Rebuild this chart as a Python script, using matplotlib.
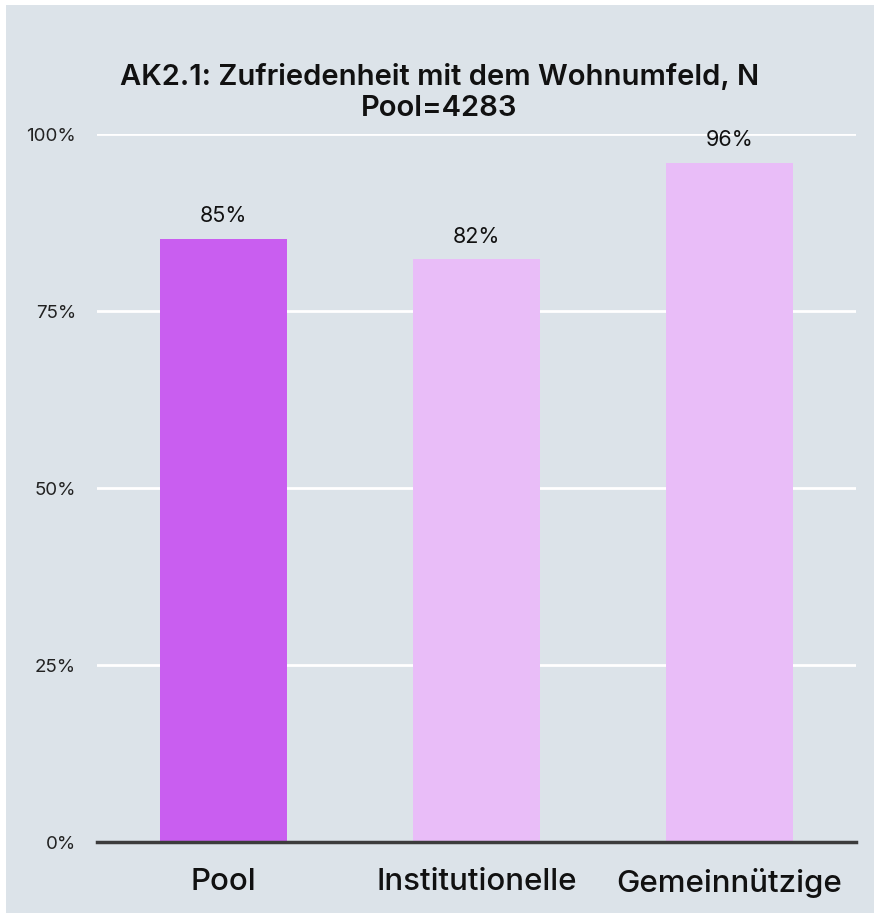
import numpy as np
import matplotlib.pyplot as plt
from matplotlib.patches import Rectangle
from matplotlib.ticker import FuncFormatter

# Daten
kategorien = ["Pool", "Institutionelle", "Gemeinnützige"]
werte = [85.2, 82.3, 95.9]
farben = ["#c95ef0", "#e9bdf8", "#e9bdf8"]
yticks = [0, 25, 50, 75, 100]

plt.rcParams['font.family'] = ['Inter', 'DejaVu Sans']

fig = plt.figure(figsize=(8.74, 9.13), dpi=100, facecolor="white")
# grauer Hintergrund, weisser Rand nur links/oben
fig.add_artist(Rectangle((6/874, 0), 1.0, 1 - 5/913, transform=fig.transFigure,
                         facecolor="#dce3e9", edgecolor="none", zorder=-5))

ax = fig.add_axes([97/874, 1 - 842/913, 759/874, 708/913])
ax.set_facecolor("none")

x = np.arange(len(kategorien))
balken = ax.bar(x, werte, width=0.5, color=farben, zorder=3)
for b, w in zip(balken, werte):
    ax.text(b.get_x() + b.get_width()/2, w + 1.8, f"{round(w)}%",
            ha="center", va="bottom", fontsize=15.5, color="#111111")

ax.set_xlim(-0.5, len(kategorien) - 0.5)
ax.set_ylim(0, 100)
ax.set_yticks(yticks)
ax.yaxis.set_major_formatter(FuncFormatter(lambda v, p: f"{int(v)}%"))
ax.grid(axis="y", color="white", linewidth=2, zorder=0)
ax.set_xticks(x)
ax.set_xticklabels(kategorien, fontsize=22.5, fontweight="medium", color="#111111")
ax.tick_params(axis="x", length=0, pad=19)
ax.tick_params(axis="y", length=0, pad=15, labelsize=13.5, labelcolor="#222222")
for s in ["top", "right", "left"]:
    ax.spines[s].set_visible(False)
ax.spines["bottom"].set_color("#3c3c3c")
ax.spines["bottom"].set_linewidth(2.5)
ax.spines["bottom"].set_zorder(4)

fig.text(0.503, 1 - 93/913, "AK2.1: Zufriedenheit mit dem Wohnumfeld, N\nPool=4283",
         ha="center", va="center", fontsize=21, fontweight="semibold",
         color="#111111", linespacing=1.2)

fig.savefig("out.png", dpi=100, facecolor="white")
